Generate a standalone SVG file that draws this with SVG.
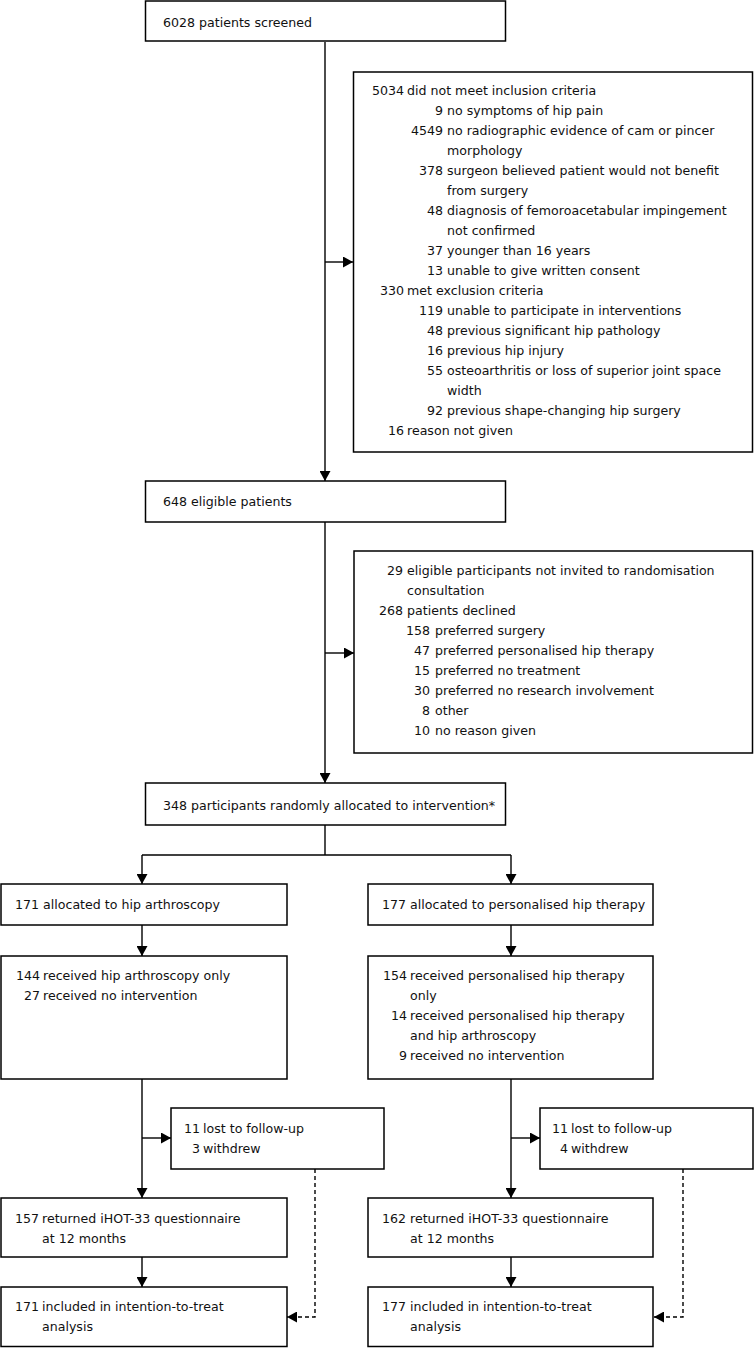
<svg xmlns="http://www.w3.org/2000/svg" width="754" height="1348" viewBox="0 0 754 1348">
<style>
.box{fill:#fff;stroke:#000;stroke-width:1.5}
.ln{fill:none;stroke:#000;stroke-width:1.4}
.dash{stroke-dasharray:4 3}
text{font-family:"DejaVu Sans",sans-serif;font-size:12.6px;fill:#111}
.n{text-anchor:end}
</style>
<defs>
<marker id="ah" viewBox="0 0 10 11" refX="10" refY="5.5" markerWidth="10" markerHeight="11" markerUnits="userSpaceOnUse" orient="auto">
<path d="M0,0 L10,5.5 L0,11 z" fill="#000"/>
</marker>
</defs>
<rect width="754" height="1348" fill="#fff"/>
<g id="connectors">
<line class="ln" x1="325" y1="42" x2="325" y2="481" marker-end="url(#ah)"/>
<line class="ln" x1="325" y1="262" x2="353" y2="262" marker-end="url(#ah)"/>
<line class="ln" x1="325" y1="522" x2="325" y2="783" marker-end="url(#ah)"/>
<line class="ln" x1="325" y1="653" x2="354" y2="653" marker-end="url(#ah)"/>
<polyline class="ln" points="325,825 325,855"/>
<polyline class="ln" points="142,855 511,855"/>
<line class="ln" x1="142" y1="855" x2="142" y2="884" marker-end="url(#ah)"/>
<line class="ln" x1="511" y1="855" x2="511" y2="884" marker-end="url(#ah)"/>
<line class="ln" x1="142" y1="925" x2="142" y2="956" marker-end="url(#ah)"/>
<line class="ln" x1="511" y1="925" x2="511" y2="956" marker-end="url(#ah)"/>
<line class="ln" x1="142" y1="1079" x2="142" y2="1198" marker-end="url(#ah)"/>
<line class="ln" x1="142" y1="1138" x2="171" y2="1138" marker-end="url(#ah)"/>
<line class="ln" x1="511" y1="1079" x2="511" y2="1198" marker-end="url(#ah)"/>
<line class="ln" x1="511" y1="1138" x2="540" y2="1138" marker-end="url(#ah)"/>
<line class="ln" x1="142" y1="1257" x2="142" y2="1287" marker-end="url(#ah)"/>
<line class="ln" x1="511" y1="1257" x2="511" y2="1287" marker-end="url(#ah)"/>
<polyline class="ln dash" points="315,1169 315,1317 287,1317" marker-end="url(#ah)"/>
<polyline class="ln dash" points="683,1169 683,1317 654,1317" marker-end="url(#ah)"/>
</g>
<g id="screened">
<rect class="box" x="145.5" y="1" width="360" height="40"/>
<text x="163" y="27">6028 patients screened</text>
</g>
<g id="excluded">
<rect class="box" x="353.5" y="72" width="399" height="380"/>
<text class="n" x="404" y="95">5034</text><text x="407" y="95">did not meet inclusion criteria</text>
<text class="n" x="443" y="115">9</text><text x="447" y="115">no symptoms of hip pain</text>
<text class="n" x="443" y="135">4549</text><text x="447" y="135">no radiographic evidence of cam or pincer</text>
<text x="447" y="155">morphology</text>
<text class="n" x="443" y="175">378</text><text x="447" y="175">surgeon believed patient would not benefit</text>
<text x="447" y="195">from surgery</text>
<text class="n" x="443" y="215">48</text><text x="447" y="215">diagnosis of femoroacetabular impingement</text>
<text x="447" y="235">not confirmed</text>
<text class="n" x="443" y="255">37</text><text x="447" y="255">younger than 16 years</text>
<text class="n" x="443" y="275">13</text><text x="447" y="275">unable to give written consent</text>
<text class="n" x="404" y="295">330</text><text x="407" y="295">met exclusion criteria</text>
<text class="n" x="443" y="315">119</text><text x="447" y="315">unable to participate in interventions</text>
<text class="n" x="443" y="335">48</text><text x="447" y="335">previous significant hip pathology</text>
<text class="n" x="443" y="355">16</text><text x="447" y="355">previous hip injury</text>
<text class="n" x="443" y="375">55</text><text x="447" y="375">osteoarthritis or loss of superior joint space</text>
<text x="447" y="395">width</text>
<text class="n" x="443" y="415">92</text><text x="447" y="415">previous shape-changing hip surgery</text>
<text class="n" x="404" y="435">16</text><text x="407" y="435">reason not given</text>
</g>
<g id="eligible">
<rect class="box" x="145.5" y="481" width="360" height="41"/>
<text x="163" y="506">648 eligible patients</text>
</g>
<g id="declined">
<rect class="box" x="354" y="551" width="398.5" height="202"/>
<text class="n" x="403" y="575">29</text><text x="407" y="575">eligible participants not invited to randomisation</text>
<text x="407" y="595">consultation</text>
<text class="n" x="403" y="615">268</text><text x="407" y="615">patients declined</text>
<text class="n" x="430" y="635">158</text><text x="435" y="635">preferred surgery</text>
<text class="n" x="430" y="655">47</text><text x="435" y="655">preferred personalised hip therapy</text>
<text class="n" x="430" y="675">15</text><text x="435" y="675">preferred no treatment</text>
<text class="n" x="430" y="695">30</text><text x="435" y="695">preferred no research involvement</text>
<text class="n" x="430" y="715">8</text><text x="435" y="715">other</text>
<text class="n" x="430" y="735">10</text><text x="435" y="735">no reason given</text>
</g>
<g id="randomised">
<rect class="box" x="145.5" y="783" width="360" height="42"/>
<text x="163" y="810">348 participants randomly allocated to intervention*</text>
</g>
<g id="alloc-arthroscopy">
<rect class="box" x="1" y="884" width="286" height="41"/>
<text x="15" y="909">171 allocated to hip arthroscopy</text>
</g>
<g id="alloc-therapy">
<rect class="box" x="368" y="884" width="285" height="41"/>
<text x="382" y="909">177 allocated to personalised hip therapy</text>
</g>
<g id="received-arthroscopy">
<rect class="box" x="1" y="956" width="286" height="123"/>
<text class="n" x="40" y="980">144</text><text x="43" y="980">received hip arthroscopy only</text>
<text class="n" x="40" y="1000">27</text><text x="43" y="1000">received no intervention</text>
</g>
<g id="received-therapy">
<rect class="box" x="368" y="956" width="285" height="123"/>
<text class="n" x="407" y="980">154</text><text x="410" y="980">received personalised hip therapy</text>
<text x="410" y="1000">only</text>
<text class="n" x="407" y="1020">14</text><text x="410" y="1020">received personalised hip therapy</text>
<text x="410" y="1040">and hip arthroscopy</text>
<text class="n" x="407" y="1060">9</text><text x="410" y="1060">received no intervention</text>
</g>
<g id="lost-arthroscopy">
<rect class="box" x="171" y="1108" width="213" height="61"/>
<text class="n" x="200" y="1133">11</text><text x="203" y="1133">lost to follow-up</text>
<text class="n" x="200" y="1153">3</text><text x="203" y="1153">withdrew</text>
</g>
<g id="lost-therapy">
<rect class="box" x="540" y="1108" width="213" height="61"/>
<text class="n" x="568" y="1133">11</text><text x="571" y="1133">lost to follow-up</text>
<text class="n" x="568" y="1153">4</text><text x="571" y="1153">withdrew</text>
</g>
<g id="returned-arthroscopy">
<rect class="box" x="1" y="1198" width="286" height="59"/>
<text class="n" x="39" y="1223">157</text><text x="42" y="1223">returned iHOT-33 questionnaire</text>
<text x="42" y="1243">at 12 months</text>
</g>
<g id="returned-therapy">
<rect class="box" x="368" y="1198" width="285" height="59"/>
<text class="n" x="406" y="1223">162</text><text x="410" y="1223">returned iHOT-33 questionnaire</text>
<text x="410" y="1243">at 12 months</text>
</g>
<g id="itt-arthroscopy">
<rect class="box" x="1" y="1287" width="286" height="59.5"/>
<text class="n" x="39" y="1311">171</text><text x="42" y="1311">included in intention-to-treat</text>
<text x="42" y="1331">analysis</text>
</g>
<g id="itt-therapy">
<rect class="box" x="368" y="1287" width="285" height="59.5"/>
<text class="n" x="406" y="1311">177</text><text x="410" y="1311">included in intention-to-treat</text>
<text x="410" y="1331">analysis</text>
</g>
</svg>
